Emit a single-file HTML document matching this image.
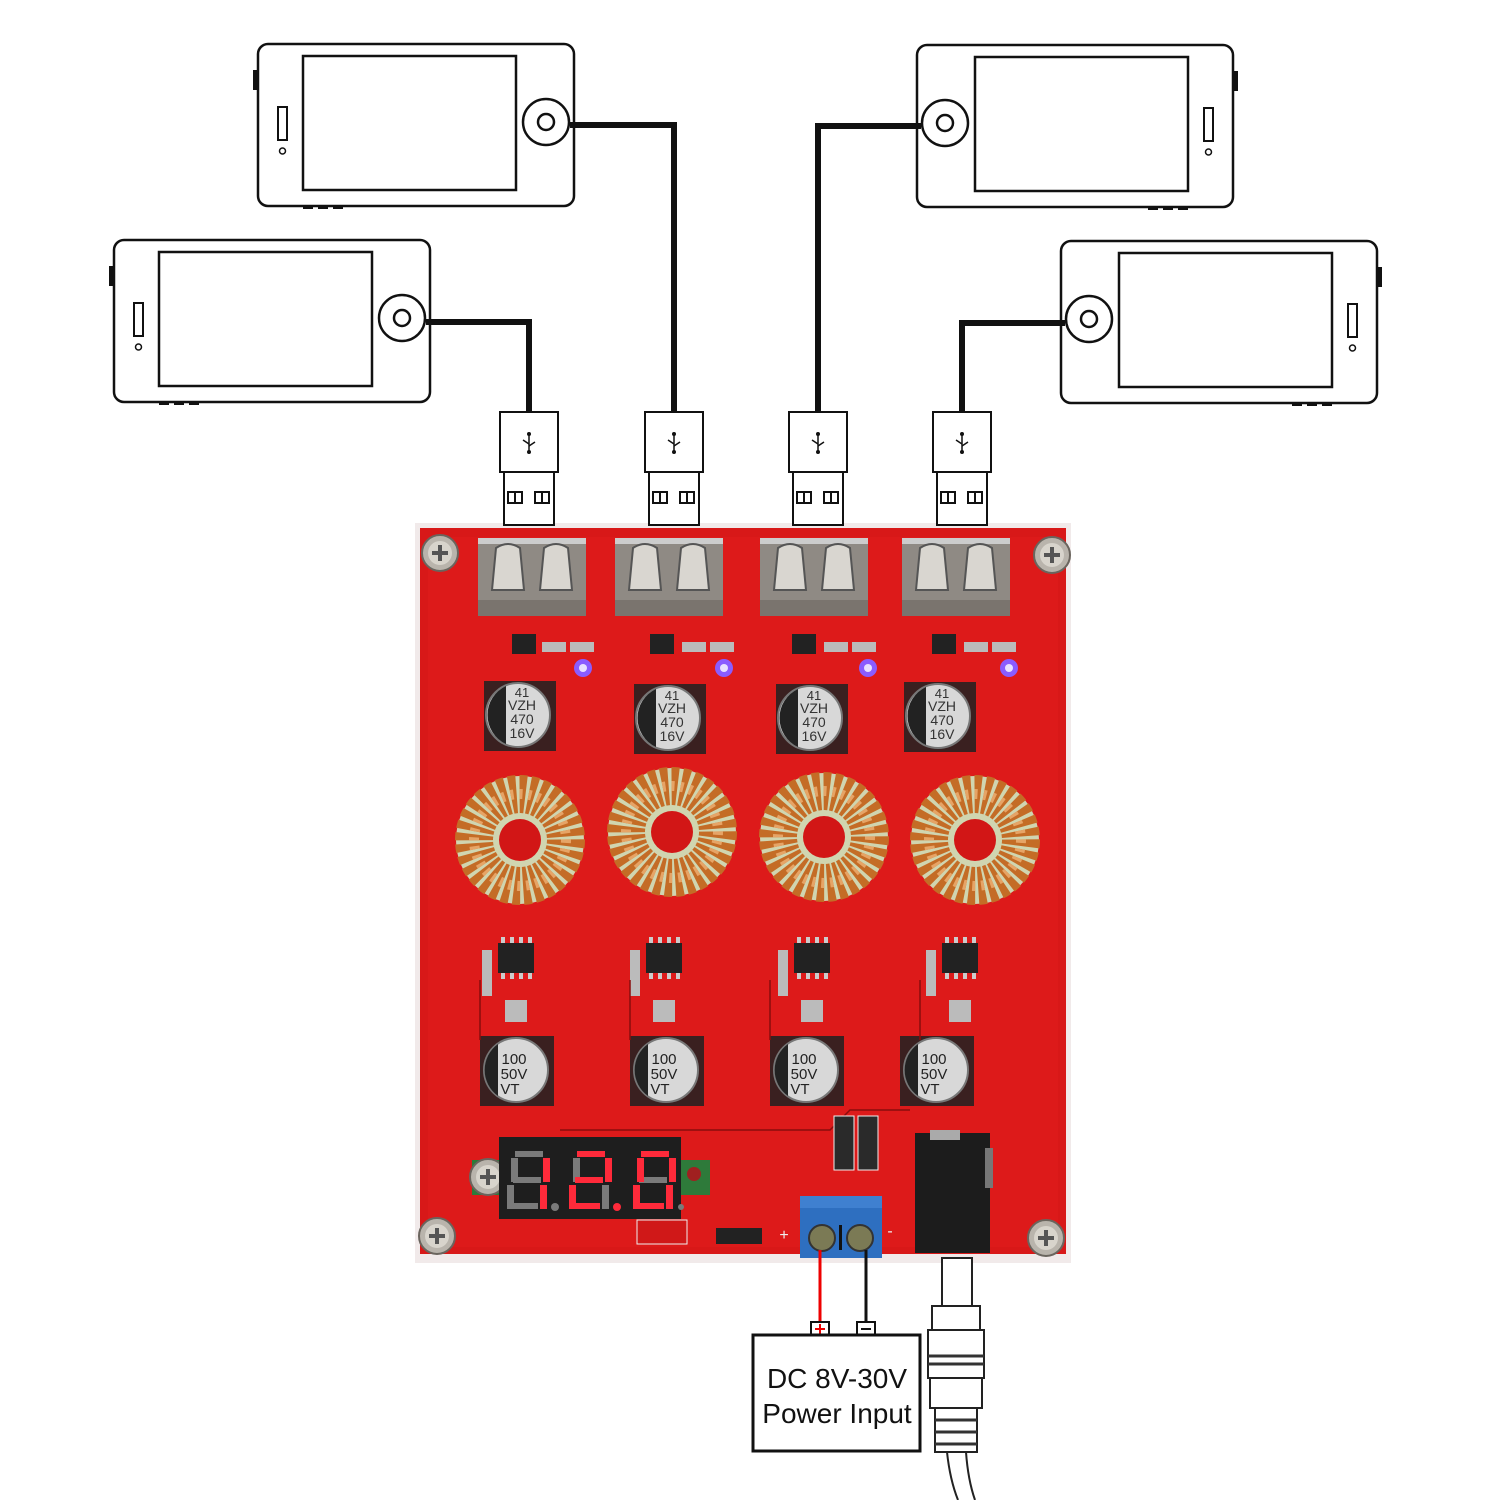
<!DOCTYPE html>
<html><head><style>html,body{margin:0;padding:0;background:#fff}svg{display:block}</style></head>
<body>
<svg width="1500" height="1500" viewBox="0 0 1500 1500" xmlns="http://www.w3.org/2000/svg" font-family="Liberation Sans, sans-serif">
<defs>
<g id="phoneL">
 <rect x="0" y="0" width="316" height="162" rx="10" fill="#fff" stroke="#111" stroke-width="2.5"/>
 <rect x="-5" y="26" width="5" height="20" fill="#111"/>
 <rect x="45" y="12" width="213" height="134" fill="#fff" stroke="#111" stroke-width="2.5"/>
 <circle cx="288" cy="78" r="23" fill="#fff" stroke="#111" stroke-width="2.5"/>
 <circle cx="288" cy="78" r="8" fill="#fff" stroke="#111" stroke-width="2.5"/>
 <rect x="20" y="63" width="9" height="33" fill="#fff" stroke="#111" stroke-width="2"/>
 <circle cx="24.5" cy="107" r="3" fill="none" stroke="#111" stroke-width="1.5"/>
 <rect x="45" y="162" width="10" height="3" fill="#111"/><rect x="60" y="162" width="10" height="3" fill="#111"/><rect x="75" y="162" width="10" height="3" fill="#111"/>
</g>
<g id="plug">
 <rect x="0" y="0" width="58" height="60" fill="#fff" stroke="#111" stroke-width="2"/>
 <rect x="4" y="60" width="50" height="53" fill="#fff" stroke="#111" stroke-width="2"/>
 <rect x="8" y="80" width="14" height="11" fill="#fff" stroke="#111" stroke-width="2"/><line x1="15" y1="80" x2="15" y2="91" stroke="#111" stroke-width="2"/>
 <rect x="35" y="80" width="14" height="11" fill="#fff" stroke="#111" stroke-width="2"/><line x1="42" y1="80" x2="42" y2="91" stroke="#111" stroke-width="2"/>
 <g stroke="#111" stroke-width="1.5" fill="none"><line x1="29" y1="22" x2="29" y2="40"/><path d="M29 32 l-6 -4 M29 34 l6 -4"/></g>
 <circle cx="29" cy="22" r="2" fill="#111"/><circle cx="29" cy="40" r="2" fill="#111"/>
</g>
<g id="recept">
 <rect x="0" y="0" width="108" height="78" fill="#8f8a84"/>
 <rect x="0" y="0" width="108" height="6" fill="#ccc"/>
 <path d="M14 52 L18 10 Q30 2 42 10 L46 52 Z" fill="#d9d6d0" stroke="#555" stroke-width="2"/>
 <path d="M62 52 L66 10 Q78 2 90 10 L94 52 Z" fill="#d9d6d0" stroke="#555" stroke-width="2"/>
 <rect x="0" y="62" width="108" height="16" fill="#7a746e"/>
</g>
<g id="toroid">
 <circle r="64" fill="#d0d5b0"/>
 <circle r="46" fill="none" stroke="#c46c26" stroke-width="38" stroke-dasharray="6 3"/>
 <circle r="46" fill="none" stroke="#e6a466" stroke-width="10" stroke-dasharray="3 6"/>
 <circle r="21" fill="#d21616"/>
</g>
<g id="cap470">
 <rect x="-34" y="-34" width="72" height="70" fill="#3a2020"/>
 <circle r="32" fill="#d8d8d8" stroke="#777" stroke-width="2"/>
 <path d="M-12 -29 A32 32 0 0 0 -12 29 Z" fill="#222"/>
 <text x="4" y="-18" font-size="13" text-anchor="middle" fill="#333">41</text>
 <text x="4" y="-5" font-size="14" text-anchor="middle" fill="#333">VZH</text>
 <text x="4" y="9" font-size="14" text-anchor="middle" fill="#333">470</text>
 <text x="4" y="23" font-size="14" text-anchor="middle" fill="#333">16V</text>
</g>
<g id="cap100">
 <rect x="-36" y="-34" width="74" height="70" fill="#3a2020"/>
 <circle r="32" fill="#d8d8d8" stroke="#777" stroke-width="2"/>
 <path d="M-18 -26 A32 32 0 0 0 -18 26 Z" fill="#222"/>
 <text x="-2" y="-6" font-size="15" text-anchor="middle" fill="#222">100</text>
 <text x="-2" y="9" font-size="15" text-anchor="middle" fill="#222">50V</text>
 <text x="-6" y="24" font-size="15" text-anchor="middle" fill="#222">VT</text>
</g>
<g id="ic">
 <rect x="0" y="0" width="36" height="30" fill="#222"/>
 <g fill="#ccc"><rect x="3" y="-6" width="4" height="6"/><rect x="12" y="-6" width="4" height="6"/><rect x="21" y="-6" width="4" height="6"/><rect x="30" y="-6" width="4" height="6"/>
 <rect x="3" y="30" width="4" height="6"/><rect x="12" y="30" width="4" height="6"/><rect x="21" y="30" width="4" height="6"/><rect x="30" y="30" width="4" height="6"/></g>
</g>
<g id="screw">
 <circle r="18" fill="#b9b4ac" stroke="#6a655e" stroke-width="2"/>
 <circle r="12" fill="#d8d4cc"/>
 <path d="M-8 0 H8 M0 -8 V8" stroke="#555" stroke-width="4"/>
</g>
</defs>

<use href="#phoneL" x="258" y="44"/>
<use href="#phoneL" x="114" y="240"/>
<use href="#phoneL" transform="translate(1233,45) scale(-1,1)"/>
<use href="#phoneL" transform="translate(1377,241) scale(-1,1)"/>

<g fill="none" stroke="#111" stroke-width="6">
 <path d="M570 125 H674 V414"/>
 <path d="M426 322 H529 V414"/>
 <path d="M921 126 H818 V414"/>
 <path d="M1065 323 H962 V414"/>
</g>

<rect x="415" y="523" width="656" height="740" fill="#f1eaea"/>
<rect x="420" y="528" width="646" height="726" fill="#d81818"/>
<rect x="428" y="537" width="630" height="710" fill="#dd1a1a"/>

<use href="#plug" x="500" y="412"/>
<use href="#plug" x="645" y="412"/>
<use href="#plug" x="789" y="412"/>
<use href="#plug" x="933" y="412"/>

<use href="#recept" x="478" y="538"/>
<use href="#recept" x="615" y="538"/>
<use href="#recept" x="760" y="538"/>
<use href="#recept" x="902" y="538"/>

<g fill="#222">
 <rect x="512" y="634" width="24" height="20"/><rect x="650" y="634" width="24" height="20"/><rect x="792" y="634" width="24" height="20"/><rect x="932" y="634" width="24" height="20"/>
</g>
<g fill="#bbb">
 <rect x="542" y="642" width="24" height="10"/><rect x="570" y="642" width="24" height="10"/>
 <rect x="682" y="642" width="24" height="10"/><rect x="710" y="642" width="24" height="10"/>
 <rect x="824" y="642" width="24" height="10"/><rect x="852" y="642" width="24" height="10"/>
 <rect x="964" y="642" width="24" height="10"/><rect x="992" y="642" width="24" height="10"/>
</g>
<g fill="#8a5cff"><circle cx="583" cy="668" r="9"/><circle cx="724" cy="668" r="9"/><circle cx="868" cy="668" r="9"/><circle cx="1009" cy="668" r="9"/></g>
<g fill="#e8e0ff"><circle cx="583" cy="668" r="4"/><circle cx="724" cy="668" r="4"/><circle cx="868" cy="668" r="4"/><circle cx="1009" cy="668" r="4"/></g>

<use href="#cap470" x="518" y="715"/>
<use href="#cap470" x="668" y="718"/>
<use href="#cap470" x="810" y="718"/>
<use href="#cap470" x="938" y="716"/>

<use href="#toroid" x="520" y="840"/>
<use href="#toroid" x="672" y="832"/>
<use href="#toroid" x="824" y="837"/>
<use href="#toroid" x="975" y="840"/>

<use href="#ic" x="498" y="943"/>
<use href="#ic" x="646" y="943"/>
<use href="#ic" x="794" y="943"/>
<use href="#ic" x="942" y="943"/>
<g fill="#bbb">
 <rect x="482" y="950" width="10" height="46"/><rect x="630" y="950" width="10" height="46"/><rect x="778" y="950" width="10" height="46"/><rect x="926" y="950" width="10" height="46"/>
 <rect x="505" y="1000" width="22" height="22"/><rect x="653" y="1000" width="22" height="22"/><rect x="801" y="1000" width="22" height="22"/><rect x="949" y="1000" width="22" height="22"/>
</g>

<use href="#cap100" x="516" y="1070"/>
<use href="#cap100" x="666" y="1070"/>
<use href="#cap100" x="806" y="1070"/>
<use href="#cap100" x="936" y="1070"/>

<g stroke="#8a0c0c" stroke-width="1.5" fill="none">
 <path d="M560 1130 H830 L850 1110 H910"/>
 <path d="M480 1040 V980 M630 1040 V980 M770 1040 V980 M920 1040 V980"/>
</g>

<rect x="472" y="1160" width="30" height="35" fill="#2e7a3a"/>
<rect x="678" y="1160" width="32" height="35" fill="#2e7a3a"/>
<circle cx="694" cy="1174" r="7" fill="#a02020"/>
<use href="#screw" x="488" y="1177"/>
<rect x="499" y="1137" width="182" height="82" fill="#1e1e1e"/>
<!-- digit 1 (ox=510) -->
<g fill="#7a7a7a">
 <rect x="515" y="1151" width="28" height="6"/><rect x="511" y="1158" width="7" height="24"/><rect x="513" y="1177" width="28" height="6"/><rect x="507" y="1185" width="7" height="24"/><rect x="510" y="1203" width="28" height="6"/>
 <circle cx="555" cy="1207" r="4"/>
</g>
<g fill="#ff2a3a"><rect x="543" y="1158" width="7" height="24"/><rect x="540" y="1185" width="7" height="24"/></g>
<!-- digit 2 (ox=572) -->
<g fill="#7a7a7a"><rect x="573" y="1158" width="7" height="24"/><rect x="602" y="1185" width="7" height="24"/></g>
<g fill="#ff2a3a">
 <rect x="577" y="1151" width="28" height="6"/><rect x="605" y="1158" width="7" height="24"/><rect x="575" y="1177" width="28" height="6"/><rect x="569" y="1185" width="7" height="24"/><rect x="572" y="1203" width="28" height="6"/>
 <circle cx="617" cy="1207" r="4"/>
</g>
<!-- digit 3 (ox=636) -->
<g fill="#7a7a7a"><rect x="639" y="1177" width="28" height="6"/><circle cx="681" cy="1207" r="3"/></g>
<g fill="#ff2a3a">
 <rect x="641" y="1151" width="28" height="6"/><rect x="669" y="1158" width="7" height="24"/><rect x="666" y="1185" width="7" height="24"/><rect x="636" y="1203" width="28" height="6"/><rect x="633" y="1185" width="7" height="24"/><rect x="637" y="1158" width="7" height="24"/>
</g>
<rect x="637" y="1220" width="50" height="24" fill="#d01818" stroke="#eee" stroke-width="1"/>
<rect x="716" y="1228" width="46" height="16" fill="#222"/>
<text x="784" y="1240" font-size="16" fill="#eee" text-anchor="middle">+</text>
<text x="890" y="1236" font-size="16" fill="#eee" text-anchor="middle">-</text>

<rect x="834" y="1116" width="20" height="54" fill="#2a2a2a" stroke="#eee" stroke-width="1"/>
<rect x="858" y="1116" width="20" height="54" fill="#2a2a2a" stroke="#eee" stroke-width="1"/>

<rect x="800" y="1196" width="82" height="62" fill="#2e6fc0"/>
<rect x="800" y="1196" width="82" height="12" fill="#3f80d0"/>
<circle cx="822" cy="1238" r="13" fill="#7b7a55" stroke="#333" stroke-width="2"/>
<circle cx="860" cy="1238" r="13" fill="#7b7a55" stroke="#333" stroke-width="2"/>
<rect x="839" y="1225" width="3" height="25" fill="#111"/>

<rect x="915" y="1133" width="75" height="120" fill="#1c1c1c"/>
<rect x="985" y="1148" width="8" height="40" fill="#777"/>
<rect x="930" y="1130" width="30" height="10" fill="#aaa"/>

<use href="#screw" x="440" y="553"/>
<use href="#screw" x="1052" y="555"/>
<use href="#screw" x="437" y="1236"/>
<use href="#screw" x="1046" y="1238"/>

<line x1="820" y1="1250" x2="820" y2="1323" stroke="#e00" stroke-width="3"/>
<line x1="866" y1="1250" x2="866" y2="1323" stroke="#111" stroke-width="3"/>
<rect x="811" y="1322" width="18" height="13" fill="#fff" stroke="#111" stroke-width="2"/>
<path d="M815 1329 h10 M820 1324 v10" stroke="#e00" stroke-width="2"/>
<rect x="857" y="1322" width="18" height="13" fill="#fff" stroke="#111" stroke-width="2"/>
<path d="M861 1329 h10" stroke="#111" stroke-width="2"/>

<rect x="753" y="1335" width="167" height="116" fill="#fff" stroke="#111" stroke-width="3"/>
<text x="837" y="1388" font-size="28" text-anchor="middle" fill="#111">DC 8V-30V</text>
<text x="837" y="1423" font-size="28" text-anchor="middle" fill="#111">Power Input</text>

<g fill="#fff" stroke="#222" stroke-width="2">
 <rect x="942" y="1258" width="30" height="48"/>
 <rect x="932" y="1306" width="48" height="24"/>
 <rect x="928" y="1330" width="56" height="48"/>
 <rect x="930" y="1378" width="52" height="30"/>
 <rect x="935" y="1408" width="42" height="44"/>
</g>
<g stroke="#333" stroke-width="3"><line x1="928" y1="1356" x2="984" y2="1356"/><line x1="928" y1="1364" x2="984" y2="1364"/><line x1="935" y1="1420" x2="977" y2="1420"/><line x1="935" y1="1432" x2="977" y2="1432"/><line x1="935" y1="1444" x2="977" y2="1444"/></g>
<path d="M947 1452 Q950 1480 958 1500 M966 1452 Q968 1480 975 1500" stroke="#222" stroke-width="2" fill="none"/>
</svg>
</body></html>
